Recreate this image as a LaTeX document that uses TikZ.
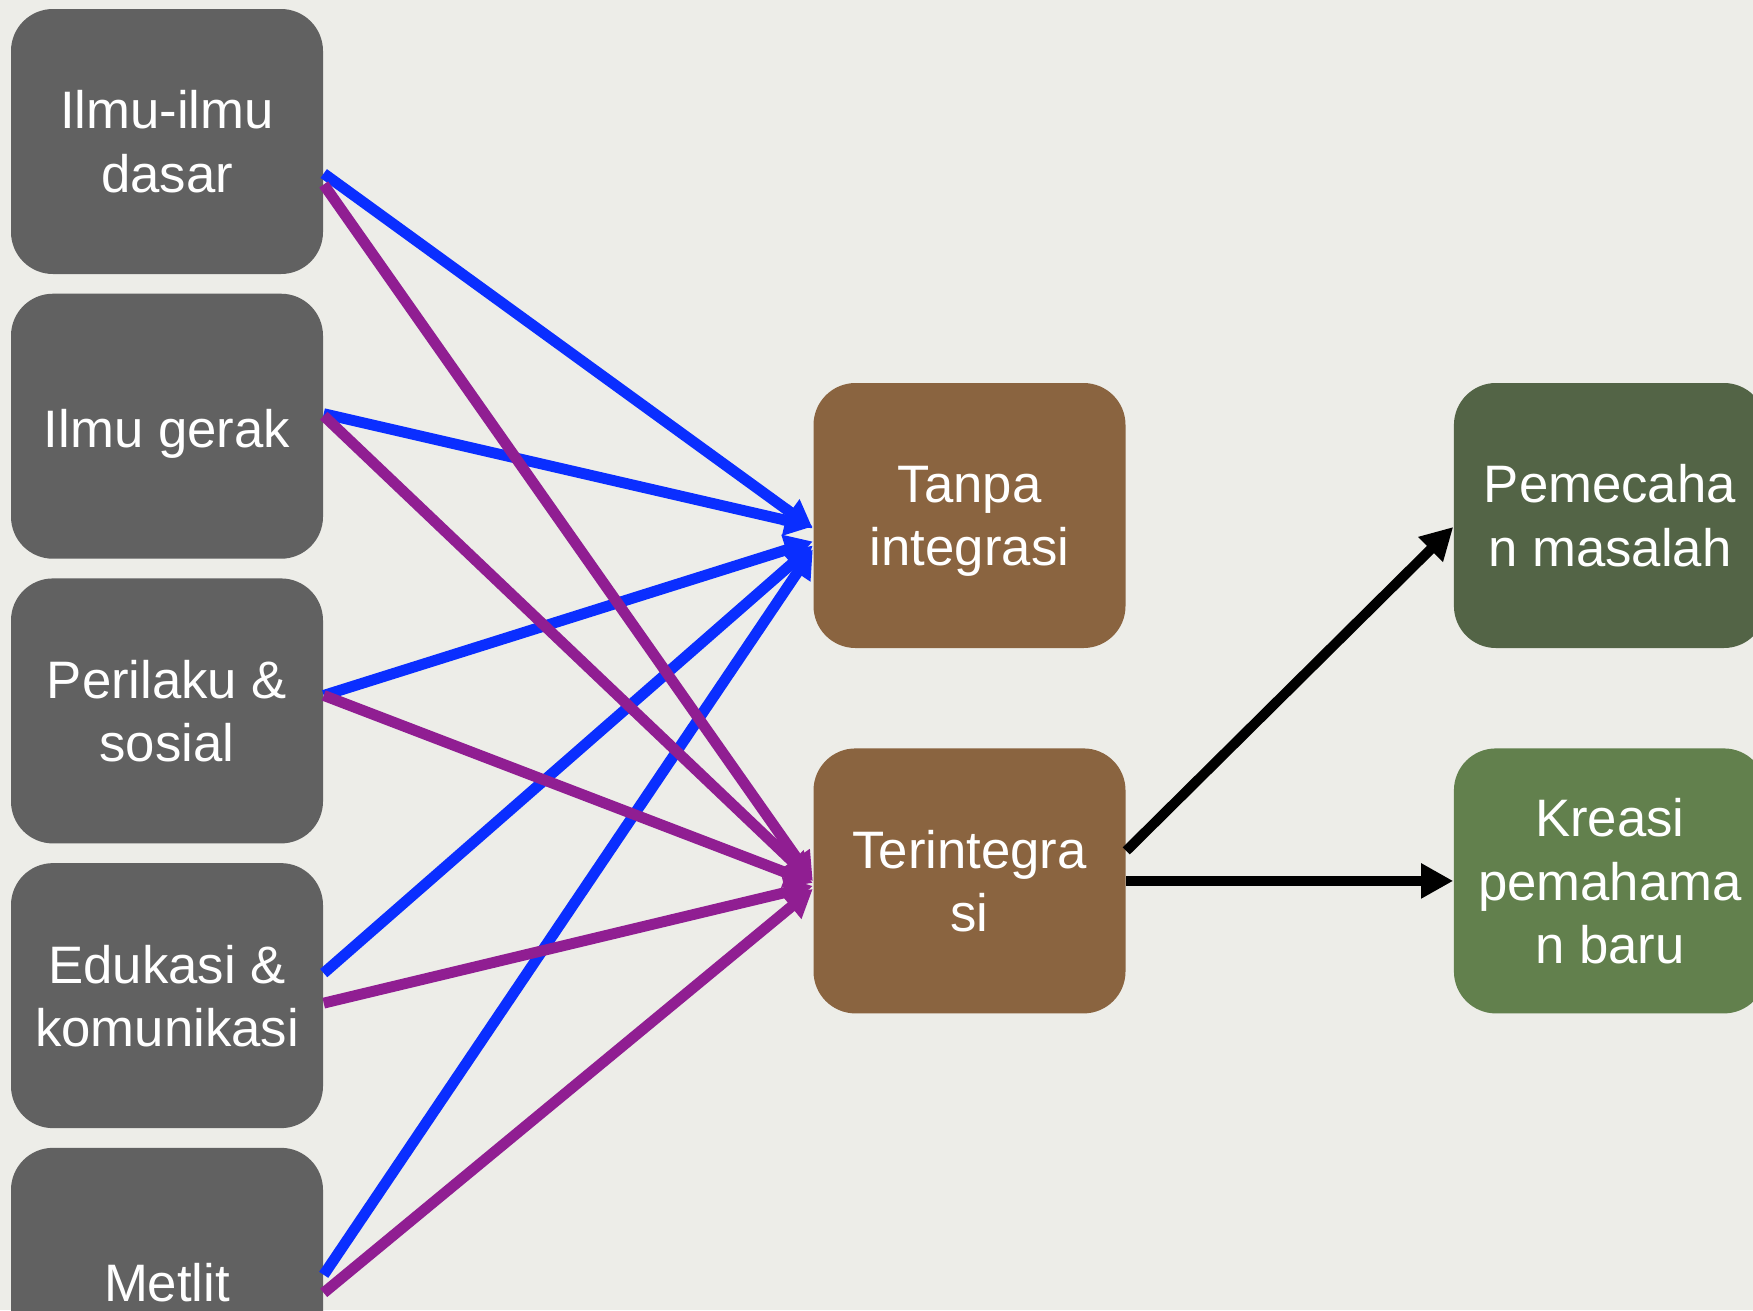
\documentclass[tikz,border=0pt]{standalone}
\usepackage{fontspec}
\setmainfont{Liberation Sans}
\usetikzlibrary{arrows.meta,positioning}
\definecolor{bgpaper}{HTML}{EDEDE8}
\definecolor{boxgrey}{HTML}{616161}
\definecolor{boxbrown}{HTML}{8A6440}
\definecolor{boxdkgreen}{HTML}{536446}
\definecolor{boxgreen}{HTML}{62804D}
\definecolor{linkblue}{HTML}{0A2EFF}
\definecolor{linkpurple}{HTML}{901E92}

\begin{document}
\begin{tikzpicture}[
    every node/.style={font=\fontsize{15}{18}\selectfont, text=white, align=center},
    card/.style={rounded corners=0.42cm, minimum width=3.12cm, minimum height=2.65cm, inner sep=0pt,
                 text depth=0pt, execute at begin node={\rule{0pt}{12pt}}},
    bluelink/.style={-{Triangle[length=2.8mm,width=3mm]}, linkblue, line width=3.1pt},
    purplelink/.style={-{Triangle[length=2.8mm,width=3mm]}, linkpurple, line width=3.1pt},
    blacklink/.style={-{Triangle[length=3.2mm,width=3.3mm]}, black, line width=2.85pt}
]
    % paper
        \fill[bgpaper] (0,0) rectangle (17.53,-13.10);
        \useasboundingbox (0,0) rectangle (17.53,-13.10);
        \clip (0,0) rectangle (17.53,-13.10);

    % LEFT: fields
        \node[card, fill=boxgrey] (dasar) at (1.67,-1.415) {Ilmu-ilmu\\dasar};
        \node[card, fill=boxgrey, below=0.183cm of dasar] (gerak) {Ilmu gerak};
        \node[card, fill=boxgrey, below=0.183cm of gerak] (perilaku) {Perilaku \&\\sosial};
        \node[card, fill=boxgrey, below=0.183cm of perilaku] (edukasi) {Edukasi \&\\komunikasi};
        \node[card, fill=boxgrey, below=0.183cm of edukasi] (metlit) {Metlit};

    % MIDDLE: integration
        \node[card, fill=boxbrown] (tanpa) at (9.695,-5.155) {Tanpa\\integrasi};
        \node[card, fill=boxbrown, below=0.99cm of tanpa] (tinteg) {Terintegra\\si};

    % RIGHT: outcomes
        \node[card, fill=boxdkgreen, right=3.27cm of tanpa] (pemecahan) {Pemecaha\\n masalah};
        \node[card, fill=boxgreen, below=0.99cm of pemecahan] (kreasi) {Kreasi\\pemahama\\n baru};

    % Links to Tanpa integrasi
        \foreach \src/\from/\to in {dasar/-0.32/-0.13, gerak/0.125/-0.11, perilaku/0.155/-0.26,
                                    edukasi/0.225/-0.30, metlit/0.055/-0.34}
            \draw[bluelink] ([yshift=\from cm]\src.east) -- ([yshift=\to cm]tanpa.west);

    % Links to Terintegrasi
        \foreach \src/\from/\to in {dasar/-0.43/0.0, gerak/0.105/0.0, perilaku/0.155/-0.02,
                                    edukasi/-0.075/-0.05, metlit/-0.125/-0.08}
            \draw[purplelink] ([yshift=\from cm]\src.east) -- ([yshift=\to cm]tinteg.west);

    % Outcomes
        \draw[blacklink] ([yshift=0.30cm]tinteg.east) -- ([yshift=-0.115cm]pemecahan.west);
        \draw[blacklink] (tinteg.east) -- (kreasi.west);
\end{tikzpicture}
\end{document}
